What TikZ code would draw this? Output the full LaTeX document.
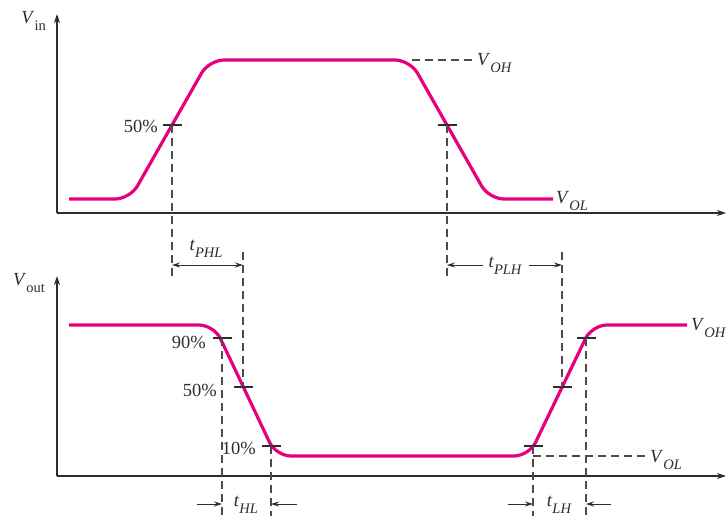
\documentclass[tikz,border=0pt]{standalone}
\usepackage{fontspec}
\setmainfont{Liberation Serif}
\usetikzlibrary{arrows.meta}
\definecolor{mag}{RGB}{230,0,126}
\definecolor{axc}{RGB}{45,45,45}
\newcommand\sbs[1]{\raisebox{-0.36em}{\fontsize{14.5}{16}\selectfont #1}}
\newcommand\vlab[2]{\textit{V}\sbs{#2}}
\begin{document}
\begin{tikzpicture}[x=1pt,y=-1pt,
 axis/.style={draw=axc,line width=1.4pt,-{Stealth[length=9pt,width=6pt]}},
 wave/.style={draw=mag,line width=3.2pt,rounded corners=15pt},
 guide/.style={draw=axc!85,line width=1.2pt,dash pattern=on 8pt off 5pt},
 tickmark/.style={draw=axc,line width=1.2pt},
 txt/.style={font=\fontsize{18.5}{22}\selectfont,inner sep=0pt,text=axc},
 dim/.style={draw=axc,line width=1pt,-{Stealth[length=8pt,width=5pt]}}]
\useasboundingbox (0,0) rectangle (727,516);

% ---------- top graph ----------
\coordinate (o1) at (57,213);
\coordinate (y1) at (57,14);
\coordinate (x1) at (726,213);
\draw[axis] (o1) -- (y1);
\draw[axis] (o1) -- (x1);
\node[txt,anchor=east] (vin) at (46,21) {\vlab{V}{in}};

\draw[wave] (69,199) -- (130,199) -- (209,60) -- (410,60) -- (489,199) -- (553,199);

\coordinate (voh1a) at (412,60);
\coordinate (voh1b) at (473,60);
\draw[guide] (voh1a) -- (voh1b);
\node[txt,anchor=west] (voh1) at (477,63) {\vlab{V}{\itshape OH}};
\node[txt,anchor=west] (vol1) at (556,201) {\vlab{V}{\itshape OL}};

% 50% points on input
\coordinate (a50) at (172,125);
\coordinate (b50) at (447,125);
\draw[tickmark] ([xshift=-9.5]a50) -- ([xshift=9.5]a50);
\draw[tickmark] ([xshift=-9.5]b50) -- ([xshift=9.5]b50);
\node[txt,anchor=east] (l50a) at (158,126) {50\%};
\coordinate (a50d) at (172,279);
\coordinate (b50d) at (447,280);
\draw[guide] (a50) -- (a50d);
\draw[guide] (b50) -- (b50d);

% ---------- bottom graph ----------
\coordinate (o2) at (57,476);
\coordinate (y2) at (57,276);
\coordinate (x2) at (726,476);
\draw[axis] (o2) -- (y2);
\draw[axis] (o2) -- (x2);
\node[txt,anchor=east] (vout) at (45,283) {\vlab{V}{out}};

\draw[wave] (69,325) -- (214,325) -- (276,456) -- (529,456) -- (592,325) -- (687,325);

\node[txt,anchor=west] (voh2) at (691,328) {\vlab{V}{\itshape OH}};
\coordinate (vol2a) at (533,456);
\coordinate (vol2b) at (646,456);
\draw[guide] (vol2a) -- (vol2b);
\node[txt,anchor=west] (vol2) at (650,460) {\vlab{V}{\itshape OL}};

% falling output points
\coordinate (f90) at (222,338);
\coordinate (f50) at (243,387);
\coordinate (f10) at (271,446);
\foreach \p in {f90,f50,f10}{\draw[tickmark] ([xshift=-9.5]\p) -- ([xshift=9.5]\p);}
\node[txt,anchor=east] (l90) at (206,342) {90\%};
\node[txt,anchor=east] (l50b) at (217,390) {50\%};
\node[txt,anchor=east] (l10) at (256,448) {10\%};

% rising output points
\coordinate (r10) at (533,446);
\coordinate (r50) at (562,387);
\coordinate (r90) at (586,338);
\foreach \p in {r10,r50,r90}{\draw[tickmark] ([xshift=-9.5]\p) -- ([xshift=9.5]\p);}

% propagation delay guides
\coordinate (f50t) at (243,252);
\coordinate (r50t) at (562,252);
\draw[guide] (f50t) -- (f50);
\draw[guide] (r50t) -- (r50);

\coordinate (phlA) at (172,265);
\coordinate (phlB) at (243,265);
\draw[dim,{Stealth[length=8pt,width=5pt]}-{Stealth[length=8pt,width=5pt]}] (phlA) -- (phlB);
\node[txt] (tphl) at (206,249) {\textit{t}\sbs{\itshape PHL}};

\coordinate (plhA) at (447,265);
\coordinate (plhB) at (562,265);
\coordinate (plhL) at (483,265);
\coordinate (plhR) at (529,265);
\node[txt] (tplh) at (505,266) {\textit{t}\sbs{\itshape PLH}};
\draw[dim] (plhL) -- (plhA);
\draw[dim] (plhR) -- (plhB);

% rise/fall time guides
\coordinate (f90b) at (222,516);
\coordinate (f10b) at (271,516);
\coordinate (r10b) at (533,516);
\coordinate (r90b) at (586,516);
\draw[guide] (f90) -- (f90b);
\draw[guide] (f10) -- (f10b);
\draw[guide] (r10) -- (r10b);
\draw[guide] (r90) -- (r90b);

\coordinate (hlL) at (197,504);
\coordinate (hlLt) at (222,504);
\coordinate (hlR) at (297,504);
\coordinate (hlRt) at (271,504);
\draw[dim] (hlL) -- (hlLt);
\draw[dim] (hlR) -- (hlRt);
\node[txt] (thl) at (246,505) {\textit{t}\sbs{\itshape HL}};

\coordinate (lhL) at (508,504);
\coordinate (lhLt) at (533,504);
\coordinate (lhR) at (611,504);
\coordinate (lhRt) at (586,504);
\draw[dim] (lhL) -- (lhLt);
\draw[dim] (lhR) -- (lhRt);
\node[txt] (tlh) at (559,505) {\textit{t}\sbs{\itshape LH}};
\end{tikzpicture}
\end{document}
